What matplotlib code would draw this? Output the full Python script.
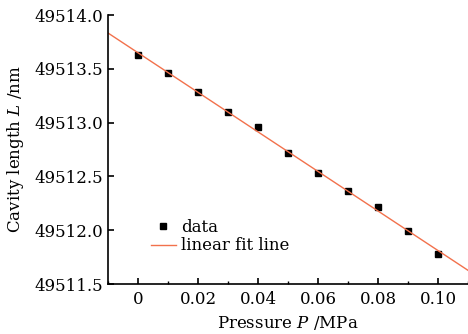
import numpy as np
import matplotlib
matplotlib.use("Agg")
import matplotlib.pyplot as plt
from matplotlib.ticker import MultipleLocator

plt.rcParams['font.family'] = 'DejaVu Serif'
plt.rcParams['mathtext.fontset'] = 'dejavuserif'
plt.rcParams['font.size'] = 12

# Data
pressure = [0.00, 0.01, 0.02, 0.03, 0.04, 0.05, 0.06, 0.07, 0.08, 0.09, 0.10]
length = [49513.63, 49513.46, 49513.28, 49513.10, 49512.96, 49512.72,
          49512.53, 49512.36, 49512.22, 49511.99, 49511.78]
x_ticks = [0, 0.02, 0.04, 0.06, 0.08, 0.10]
x_tick_labels = ["0", "0.02", "0.04", "0.06", "0.08", "0.10"]
y_ticks = [49511.5, 49512.0, 49512.5, 49513.0, 49513.5, 49514.0]

# Linear fit
slope, intercept = np.polyfit(pressure, length, 1)
x_fit = np.array([-0.01, 0.11])
y_fit = slope * x_fit + intercept

fig = plt.figure(figsize=(4.68, 3.34), dpi=100)
ax = fig.add_axes([0.2308, 0.1497, 0.7692, 0.8053])

ax.plot(pressure, length, 's', color='black', markersize=4.3, label='data')
ax.plot(x_fit, y_fit, '-', color='#f2714c', linewidth=1.0, label='linear fit line')

ax.set_xlim(-0.01, 0.11)
ax.set_ylim(49511.5, 49514.0)
ax.set_xticks(x_ticks)
ax.set_xticklabels(x_tick_labels)
ax.set_yticks(y_ticks)
ax.set_yticklabels([f"{v:.1f}" for v in y_ticks])
ax.xaxis.set_minor_locator(MultipleLocator(0.01))

ax.spines['top'].set_visible(False)
ax.spines['right'].set_visible(False)
ax.spines['left'].set_linewidth(1.2)
ax.spines['bottom'].set_linewidth(1.2)
ax.tick_params(axis='both', which='major', direction='in', length=4, width=1.2, labelsize=12)
ax.tick_params(axis='x', which='major', pad=5)
ax.tick_params(axis='x', which='minor', direction='in', length=2, width=1.0)
ax.tick_params(axis='y', which='minor', left=False)

ax.set_xlabel("Pressure $P$ /MPa", fontsize=12, labelpad=4)
ax.set_ylabel("Cavity length $L$ /nm", fontsize=12, labelpad=6)

ax.legend(loc='lower left', bbox_to_anchor=(0.10, 0.085), frameon=False,
          fontsize=12, handlelength=1.5, handletextpad=0.3, labelspacing=0.1,
          borderaxespad=0)

fig.savefig("out.png", dpi=100)
